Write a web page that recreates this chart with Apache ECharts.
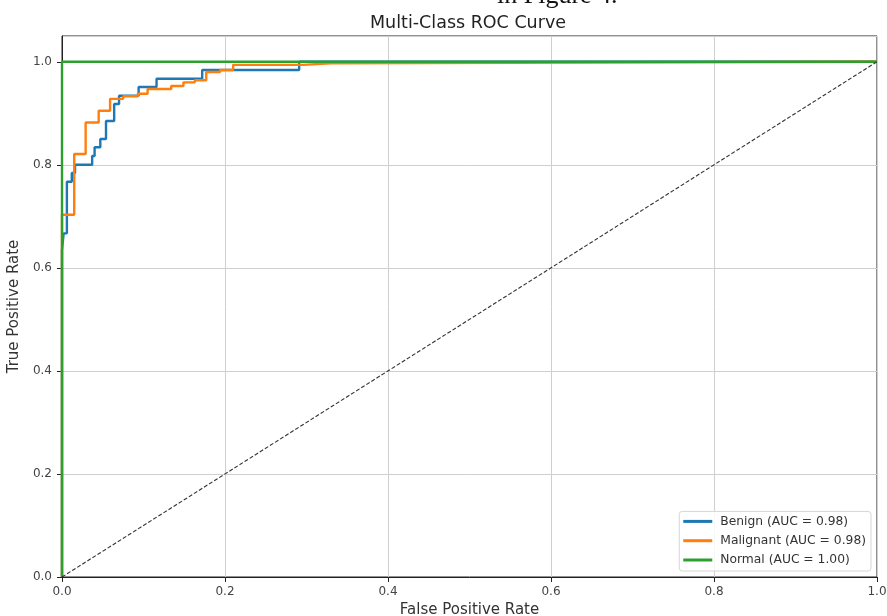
<!DOCTYPE html>
<html>
<head>
<meta charset="utf-8">
<script src="https://cdn.jsdelivr.net/npm/echarts@6/dist/echarts.min.js"></script>
<style>html,body{margin:0;padding:0;background:#fff;}#c{width:887px;height:616px;}</style>
</head>
<body>
<div id="c"></div>
<script>
var titleText = "Multi-Class ROC Curve";
var xName = "False Positive Rate";
var yName = "True Positive Rate";
var xTicks = [0, 0.2, 0.4, 0.6, 0.8, 1.0];
var yTicks = [0, 0.2, 0.4, 0.6, 0.8, 1.0];

var benignName = "Benign (AUC = 0.98)";
var benignFpr = [0, 0, 0.002, 0.002, 0.006, 0.006, 0.012, 0.012, 0.016, 0.016, 0.037, 0.037, 0.040, 0.040, 0.047, 0.047, 0.054, 0.054, 0.064, 0.064, 0.070, 0.070, 0.094, 0.094, 0.116, 0.116, 0.172, 0.172, 0.291, 0.291, 1.0];
var benignTpr = [0, 0.634, 0.634, 0.667, 0.667, 0.767, 0.767, 0.784, 0.784, 0.800, 0.800, 0.817, 0.817, 0.834, 0.834, 0.850, 0.850, 0.885, 0.885, 0.918, 0.918, 0.934, 0.934, 0.951, 0.951, 0.967, 0.967, 0.984, 0.984, 1.0, 1.0];

var malignantName = "Malignant (AUC = 0.98)";
var malignantFpr = [0, 0, 0.015, 0.015, 0.029, 0.029, 0.045, 0.045, 0.059, 0.059, 0.075, 0.075, 0.093, 0.093, 0.105, 0.105, 0.134, 0.134, 0.149, 0.149, 0.163, 0.163, 0.177, 0.177, 0.194, 0.194, 0.210, 0.210, 0.296, 0.296, 0.330, 0.330, 1.0];
var malignantTpr = [0, 0.703, 0.703, 0.821, 0.821, 0.882, 0.882, 0.905, 0.905, 0.928, 0.928, 0.933, 0.933, 0.938, 0.938, 0.947, 0.947, 0.953, 0.953, 0.960, 0.960, 0.964, 0.964, 0.980, 0.980, 0.984, 0.984, 0.994, 0.994, 0.997, 0.997, 1.0, 1.0];

var normalName = "Normal (AUC = 1.00)";
var normalFpr = [0, 0, 1.0];
var normalTpr = [0, 1.0, 1.0];

var diagX = [0, 1];
var diagY = [0, 1];

function pairs(xs, ys) { return xs.map(function (x, i) { return [x, ys[i]]; }); }

var chart = echarts.init(document.getElementById('c'), null, {renderer: 'canvas'});
var font = 'DejaVu Sans';
function lineSeries(name, xs, ys, color, z) {
  return {
    name: name, type: 'line', data: pairs(xs, ys), showSymbol: false, symbol: 'none',
    lineStyle: {color: color, width: 2.4}, itemStyle: {color: color}, z: z, animation: false,
    emphasis: {disabled: true}
  };
}
function isTick(v, arr) { return arr.some(function (t) { return Math.abs(t - v) < 1e-6; }); }
chart.setOption({
  animation: false,
  backgroundColor: '#fff',
  textStyle: {fontFamily: font},
  title: {show: false},
  grid: {left: 62, right: 10, top: 36, bottom: 39, show: true, borderColor: '#222', borderWidth: 1, backgroundColor: 'transparent', containLabel: false, outerBoundsMode: 'none'},
  xAxis: {
    type: 'value', min: 0, max: 1, interval: 0.2,
    name: xName, nameLocation: 'middle', nameGap: 26,
    nameTextStyle: {fontFamily: font, fontSize: 15, color: '#333'},
    axisLine: {show: true, onZero: false, lineStyle: {color: '#222', width: 1}},
    axisTick: {show: true, length: 5, inside: false, lineStyle: {color: '#222'}},
    axisLabel: {fontFamily: font, fontSize: 12, color: '#444', margin: 9,
      formatter: function (v) { return isTick(v, xTicks) ? v.toFixed(1) : ''; }},
    splitLine: {show: true, lineStyle: {color: '#cfcfcf', width: 1}}
  },
  yAxis: {
    type: 'value', min: 0, max: 1.05, interval: 0.2,
    name: yName, nameLocation: 'middle', nameGap: 37, nameRotate: 90,
    nameTextStyle: {fontFamily: font, fontSize: 15, color: '#333'},
    axisLine: {show: true, onZero: false, lineStyle: {color: '#222', width: 1}},
    axisTick: {show: true, length: 5, lineStyle: {color: '#222'}},
    axisLabel: {fontFamily: font, fontSize: 12, color: '#444', margin: 10, showMaxLabel: false,
      formatter: function (v) { return isTick(v, yTicks) ? v.toFixed(1) : ''; }},
    splitLine: {show: true, lineStyle: {color: '#cfcfcf', width: 1}}
  },
  legend: {
    orient: 'vertical', right: 16, bottom: 45,
    data: [benignName, malignantName, normalName],
    icon: 'rect', itemWidth: 29, itemHeight: 3, itemGap: 7.3,
    backgroundColor: 'rgba(255,255,255,0.85)', borderColor: '#d6d6d6', borderWidth: 1, borderRadius: 3,
    padding: [4, 5, 5, 4],
    textStyle: {fontFamily: font, fontSize: 12.3, color: '#333', padding: [0, 0, 0, 3]}
  },
  graphic: [
    {type: 'text', x: 468, y: 14, style: {text: titleText, font: '17.5px "DejaVu Sans"', fill: '#222', textAlign: 'center', textVerticalAlign: 'top'}, z: 100},
    {type: 'text', x: 497, y: -17, style: {text: 'in Figure 4.', font: '26px "Liberation Serif"', fill: '#111'}, z: 100}
  ],
  series: [
    lineSeries(benignName, benignFpr, benignTpr, '#1f77b4', 3),
    lineSeries(malignantName, malignantFpr, malignantTpr, '#ff7f0e', 4),
    lineSeries(normalName, normalFpr, normalTpr, '#2ca02c', 5),
    {type: 'line', data: pairs(diagX, diagY), showSymbol: false, symbol: 'none', silent: true,
     lineStyle: {color: '#333', width: 1.1, type: [4, 2]}, z: 6}
  ]
});
</script>
</body>
</html>
